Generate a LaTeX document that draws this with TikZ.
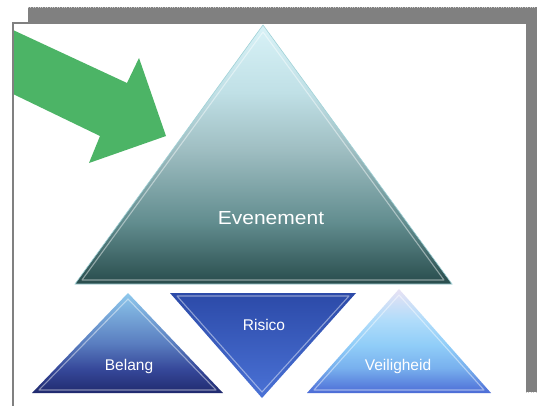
\documentclass[tikz,border=0pt]{standalone}
\usepackage{fontspec}
\setmainfont{Liberation Sans}
\usepackage{graphicx}
\definecolor{arrowgreen}{RGB}{76,180,102}
\definecolor{evTop}{RGB}{216,242,247}
\definecolor{evA}{RGB}{192,224,230}
\definecolor{evMid}{RGB}{159,190,194}
\definecolor{evB}{RGB}{98,141,143}
\definecolor{evBot}{RGB}{40,76,76}
\definecolor{evEdge}{RGB}{160,210,215}
\definecolor{beTop}{RGB}{142,200,236}
\definecolor{beMid}{RGB}{90,126,192}
\definecolor{beB}{RGB}{54,72,154}
\definecolor{beBot}{RGB}{32,42,110}
\definecolor{riTop}{RGB}{44,74,168}
\definecolor{riBot}{RGB}{74,114,214}
\definecolor{veTop}{RGB}{232,226,244}
\definecolor{veA}{RGB}{176,220,250}
\definecolor{veMid}{RGB}{144,205,248}
\definecolor{veB}{RGB}{120,176,238}
\definecolor{veBot}{RGB}{76,108,214}
\definecolor{frameGray}{RGB}{128,128,128}
\pgfdeclareverticalshading{evshade}{100bp}{color(0bp)=(evBot); color(25bp)=(evBot); color(37bp)=(evB); color(51bp)=(evMid); color(62bp)=(evA); color(75bp)=(evTop); color(100bp)=(evTop)}
\pgfdeclareverticalshading{beshade}{100bp}{color(0bp)=(beBot); color(25bp)=(beBot); color(37bp)=(beB); color(50bp)=(beMid); color(75bp)=(beTop); color(100bp)=(beTop)}
\pgfdeclareverticalshading{rishade}{100bp}{color(0bp)=(riBot); color(25bp)=(riBot); color(75bp)=(riTop); color(100bp)=(riTop)}
\pgfdeclareverticalshading{veshade}{100bp}{color(0bp)=(veBot); color(25bp)=(veBot); color(37bp)=(veB); color(48bp)=(veMid); color(60bp)=(veA); color(75bp)=(veTop); color(100bp)=(veTop)}
\begin{document}
\begin{tikzpicture}[x=1pt,y=-1pt,
  lbl/.style={text=white,inner sep=0pt,font=\fontsize{15.5}{17}\selectfont},
  biglbl/.style={text=white,inner sep=0pt,font=\fontsize{21}{24}\selectfont},
  bevel/.style={white,opacity=0.45,line width=1.1pt,line join=round}]
\useasboundingbox (0,0) rectangle (537,405);
% frame
\fill[white] (0,0) rectangle (537,405);
\fill[frameGray] (28,7) rectangle (537,392);
\draw[black!20,dotted] (28,7.5) -- (537,7.5);
\draw[black!20,dotted] (526,392.5) -- (537,392.5);
\fill[white] (13,23) rectangle (526,406);
% arrow
\fill[arrowgreen] (13,30) -- (127,83) -- (139,58) -- (166,136) -- (89,163) -- (100,136) -- (13,94) -- cycle;
\draw[frameGray,line width=1.3pt] (13,406) -- (13,23) -- (526,23);
% big triangle
\shade[shading=evshade] (263,25) -- (452,284) -- (75,284) -- cycle;
\draw[evEdge,line width=0.6pt] (263,25) -- (452,284) -- (75,284) -- cycle;
\draw[bevel] (263,32) -- (444,280) -- (82,280) -- cycle;
\node[biglbl] (even) at (271,218) {\scalebox{1}[0.9]{Evenement}};
% Belang
\shade[shading=beshade] (128,293) -- (223,393) -- (32,393) -- cycle;
\draw[bevel] (128,299) -- (216,390) -- (39,390) -- cycle;
\node[lbl] (belang) at (129,366) {Belang};
% Risico
\shade[shading=rishade] (170,293) -- (356,293) -- (262,398) -- cycle;
\draw[bevel] (177,296) -- (349,296) -- (262,392) -- cycle;
\node[lbl] (risico) at (264,325) {Risico};
% Veiligheid
\shade[shading=veshade] (399,289) -- (491,393) -- (307,393) -- cycle;
\draw[bevel] (399,295) -- (484,390) -- (314,390) -- cycle;
\node[lbl] (veil) at (398,366) {Veiligheid};
\end{tikzpicture}
\end{document}
